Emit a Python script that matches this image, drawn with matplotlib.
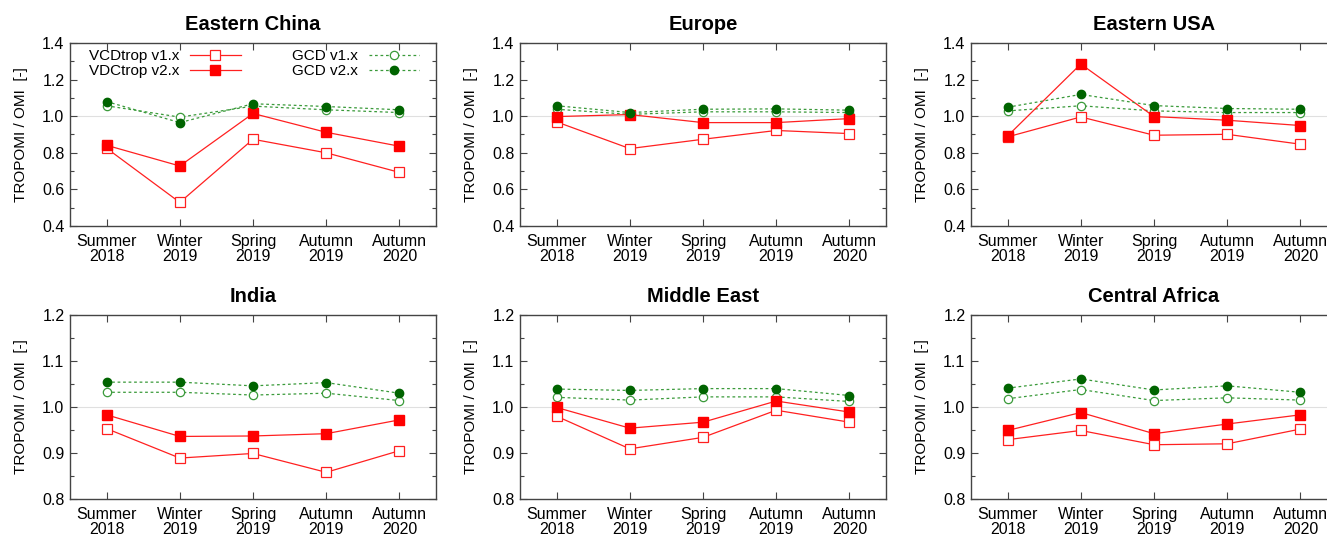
import matplotlib
matplotlib.use("Agg")
import matplotlib.pyplot as plt
from matplotlib.ticker import MultipleLocator, FormatStrFormatter

plt.rcParams['font.family'] = ['Liberation Sans', 'DejaVu Sans']

seasons = ["Summer\n2018", "Winter\n2019", "Spring\n2019", "Autumn\n2019", "Autumn\n2020"]
regions = ["Eastern China", "Europe", "Eastern USA", "India", "Middle East", "Central Africa"]

vcd_v1 = {
    "Eastern China": [0.825, 0.529, 0.874, 0.800, 0.693],
    "Europe":        [0.969, 0.823, 0.874, 0.922, 0.905],
    "Eastern USA":   [0.887, 0.996, 0.896, 0.901, 0.847],
    "India":         [0.953, 0.889, 0.899, 0.858, 0.905],
    "Middle East":   [0.980, 0.909, 0.934, 0.993, 0.967],
    "Central Africa":[0.929, 0.949, 0.918, 0.920, 0.952],
}
vcd_v2 = {
    "Eastern China": [0.841, 0.728, 1.015, 0.912, 0.836],
    "Europe":        [0.998, 1.009, 0.965, 0.965, 0.987],
    "Eastern USA":   [0.892, 1.285, 0.998, 0.978, 0.949],
    "India":         [0.983, 0.936, 0.937, 0.942, 0.972],
    "Middle East":   [0.999, 0.954, 0.967, 1.013, 0.989],
    "Central Africa":[0.949, 0.988, 0.942, 0.963, 0.983],
}
gcd_v1 = {
    "Eastern China": [1.057, 0.995, 1.055, 1.035, 1.020],
    "Europe":        [1.038, 1.010, 1.024, 1.024, 1.020],
    "Eastern USA":   [1.029, 1.057, 1.029, 1.020, 1.020],
    "India":         [1.032, 1.032, 1.026, 1.030, 1.014],
    "Middle East":   [1.021, 1.015, 1.022, 1.022, 1.012],
    "Central Africa":[1.018, 1.038, 1.014, 1.020, 1.015],
}
gcd_v2 = {
    "Eastern China": [1.080, 0.965, 1.068, 1.053, 1.035],
    "Europe":        [1.057, 1.020, 1.038, 1.040, 1.033],
    "Eastern USA":   [1.049, 1.119, 1.058, 1.042, 1.038],
    "India":         [1.054, 1.054, 1.046, 1.053, 1.030],
    "Middle East":   [1.039, 1.036, 1.040, 1.040, 1.025],
    "Central Africa":[1.041, 1.061, 1.037, 1.046, 1.032],
}

W, H = 1327, 536
fig = plt.figure(figsize=(W / 100, H / 100), dpi=100)

# axes boxes in pixels
lefts = [70, 520, 971]
width = 366
rows = [(43, 226), (315, 499)]

red = "#ff2020"
green_line = "#3a9a3a"
green_mk = "#006400"
frame = "#444444"
dash = (0, (2.2, 2.2))

x = list(range(1, 6))
for i, reg in enumerate(regions):
    r, c = divmod(i, 3)
    top, bot = rows[r]
    l = lefts[c]
    ax = fig.add_axes([l / W, 1 - bot / H, width / W, (bot - top) / H])
    ax.axhline(1.0, color="#e0e0e0", lw=0.8, zorder=0)
    ax.plot(x, vcd_v1[reg], color=red, lw=0.9, marker="s", ms=6.5, mfc="white",
            mec=red, mew=0.9, label="VCDtrop v1.x", zorder=3)
    ax.plot(x, vcd_v2[reg], color=red, lw=0.9, marker="s", ms=6.5, mfc="#ff0000",
            mec="#ff0000", label="VDCtrop v2.x", zorder=4)
    ax.plot(x, gcd_v1[reg], color=green_line, lw=0.9, ls=dash, marker="o", ms=6,
            mfc="white", mec=green_line, mew=0.9, label="GCD v1.x", zorder=3)
    ax.plot(x, gcd_v2[reg], color=green_line, lw=0.9, ls=dash, marker="o", ms=6,
            mfc=green_mk, mec=green_mk, label="GCD v2.x", zorder=4)
    ax.set_xlim(0.5, 5.5)
    if r == 0:
        ax.set_ylim(0.4, 1.4)
        ax.yaxis.set_major_locator(MultipleLocator(0.2))
        ax.yaxis.set_minor_locator(MultipleLocator(0.1))
    else:
        ax.set_ylim(0.8, 1.2)
        ax.yaxis.set_major_locator(MultipleLocator(0.1))
        ax.yaxis.set_minor_locator(MultipleLocator(0.05))
    ax.yaxis.set_major_formatter(FormatStrFormatter("%.1f"))
    ax.set_xticks(x)
    ax.set_xticklabels(seasons, fontsize=11.5, linespacing=1.0)
    ax.tick_params(axis="both", which="both", direction="in", top=True, right=True,
                   colors=frame, labelcolor="black")
    ax.tick_params(axis="both", which="major", length=5, width=0.8, labelsize=11.5)
    ax.tick_params(axis="y", which="minor", length=3, width=0.8)
    ax.tick_params(axis="x", which="major", pad=6)
    ax.tick_params(axis="y", which="major", pad=4)
    for s in ax.spines.values():
        s.set_color(frame)
        s.set_linewidth(1.0)
    ax.set_ylabel("TROPOMI / OMI  [-]", fontsize=11, labelpad=10)
    ax.set_title(reg, fontsize=14.5, fontweight="bold", pad=9)
    if i == 0:
        ax.legend(ncol=2, loc="upper left", frameon=False, markerfirst=False,
                  fontsize=11, handlelength=3.3, columnspacing=3.4,
                  borderaxespad=0.0, borderpad=0.0, labelspacing=0.1,
                  handletextpad=0.7, bbox_to_anchor=(0.052, 0.968))

fig.savefig("out.png", dpi=100)
